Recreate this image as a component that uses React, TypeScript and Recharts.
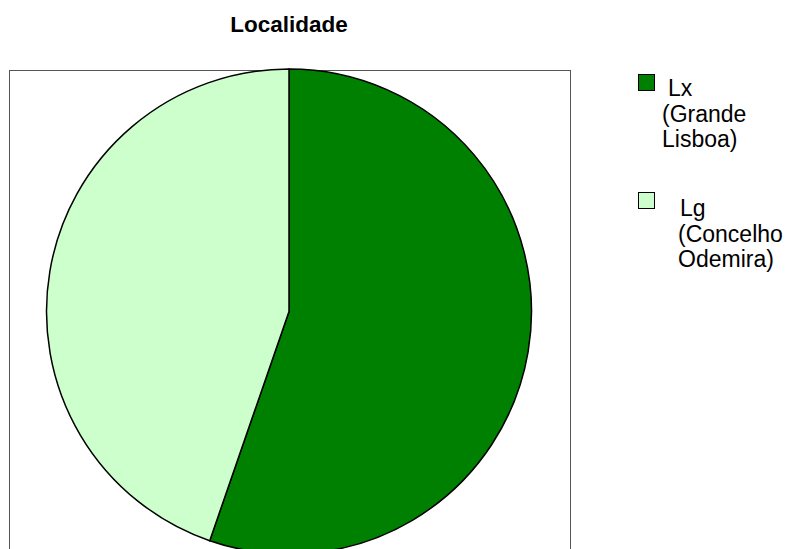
import React from "react";
import { PieChart, Pie, Cell, Legend } from "recharts";

// Localidade split (percent)
const categories = ["Lx", "Lg"];
const shares = [55.3, 44.7];
const legendLines = [
  ["Lx", "(Grande", "Lisboa)"],
  ["Lg", "(Concelho", "Odemira)"],
];
const colors = ["#008000", "#CCFFCC"];

const data = categories.map((name, i) => ({ name, value: shares[i] }));

const FONT = '"Liberation Sans", Arial, sans-serif';

function LegendBox() {
  // each entry: swatch + three wrapped text lines
  const entries = [
    { sq: { left: 638, top: 74 }, first: 668, rest: 662, top: 75 },
    { sq: { left: 638, top: 192 }, first: 680, rest: 678, top: 195 },
  ];
  return (
    <div style={{ position: "absolute", left: 0, top: 0, width: 0, height: 0 }}>
      {entries.map((e, i) => (
        <React.Fragment key={categories[i]}>
          <div
            style={{
              position: "absolute",
              left: e.sq.left,
              top: e.sq.top,
              width: 15,
              height: 15,
              background: colors[i],
              border: "1px solid #000",
            }}
          />
          {legendLines[i].map((line, j) => (
            <div
              key={line}
              style={{
                position: "absolute",
                left: j === 0 ? e.first : e.rest,
                top: e.top + j * 25.6,
                fontFamily: FONT,
                fontSize: 23,
                lineHeight: "26px",
                whiteSpace: "nowrap",
                color: "#000",
              }}
            >
              {line}
            </div>
          ))}
        </React.Fragment>
      ))}
    </div>
  );
}

export default function App() {
  return (
    <div
      style={{
        position: "absolute",
        left: 0,
        top: 0,
        width: 787,
        height: 549,
        overflow: "hidden",
        background: "#fff",
      }}
    >
      <div
        style={{
          position: "absolute",
          left: 0,
          width: 578,
          top: 14,
          textAlign: "center",
          fontFamily: FONT,
          fontWeight: "bold",
          fontSize: 22.5,
          lineHeight: "22.5px",
        }}
      >
        Localidade
      </div>
      <div
        style={{
          position: "absolute",
          left: 9,
          top: 70,
          width: 560,
          height: 520,
          border: "1px solid #555",
        }}
      />
      <div style={{ position: "absolute", left: 0, top: 0 }}>
        <PieChart width={787} height={549}>
          <Pie
            data={data}
            dataKey="value"
            nameKey="name"
            cx={284}
            cy={306.5}
            outerRadius={242.5}
            startAngle={90}
            endAngle={-270}
            stroke="#000"
            strokeWidth={1.5}
            isAnimationActive={false}
            label={false}
            labelLine={false}
          >
            {data.map((d, i) => (
              <Cell key={d.name} fill={colors[i]} />
            ))}
          </Pie>
          <Legend content={() => <LegendBox />} wrapperStyle={{ left: 0, top: 0, width: 0, height: 0 }} />
        </PieChart>
      </div>
    </div>
  );
}
